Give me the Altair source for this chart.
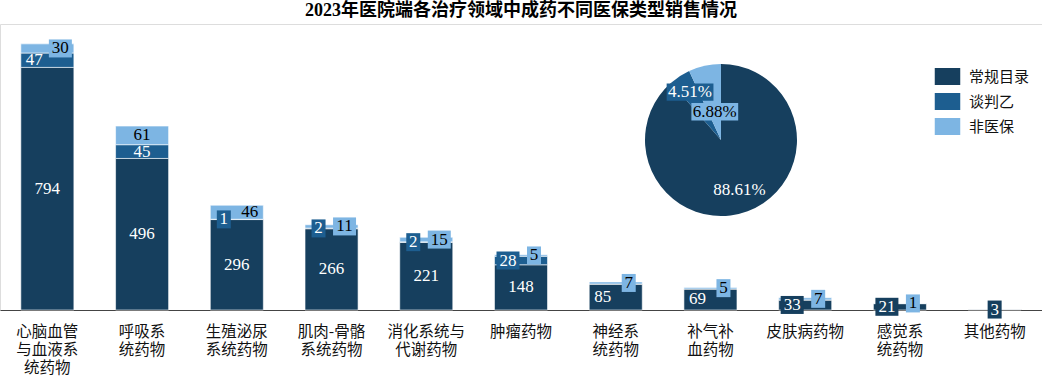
import altair as alt
import pandas as pd

# ---------------- data ----------------
categories = ["心脑血管与血液系统药物", "呼吸系统药物", "生殖泌尿系统药物", "肌肉-骨骼系统药物",
              "消化系统与代谢药物", "肿瘤药物", "神经系统药物", "补气补血药物",
              "皮肤病药物", "感觉系统药物", "其他药物"]
axis_labels = ["心脑血管|与血液系|统药物", "呼吸系|统药物", "生殖泌尿|系统药物", "肌肉-骨骼|系统药物",
               "消化系统与|代谢药物", "肿瘤药物", "神经系|统药物", "补气补|血药物",
               "皮肤病药物", "感觉系|统药物", "其他药物"]
series = ["常规目录", "谈判乙", "非医保"]
regular = [794, 496, 296, 266, 221, 148, 85, 69, 33, 21, 3]
negotiated = [47, 45, 1, 2, 2, 28, 0, 0, 0, 0, 0]
non_insured = [30, 61, 46, 11, 15, 5, 7, 5, 7, 1, 0]
pie_share = [88.61, 4.51, 6.88]
colors = ["#163f5e", "#1d5e90", "#7db5e3"]
title_text = "2023年医院端各治疗领域中成药不同医保类型销售情况"

# ---------------- layout constants ----------------
TOP = 24
W = 1042
H = 310 - TOP
YMAX = 936
CX, CY, R = 721, 140 - TOP, 76
NUM_FONT = "Liberation Serif"
CJK_FONT = "Noto Sans CJK SC"

# ---------------- tables ----------------
rows = []
for i, lab in enumerate(axis_labels):
    r, n, u = regular[i], negotiated[i], non_insured[i]
    both_big = n >= 40 and u >= 40
    for k, (s, v) in enumerate(zip(series, (r, n, u))):
        if k == 0:
            pos = "L" if (r < 100 and u > 0) else "C"
        elif k == 1:
            pos = "C" if both_big else "L"
        else:
            pos = "C" if both_big else "R"
        rows.append({"category": categories[i], "label": lab, "series": s, "value": v,
                     "order": k, "pos": pos, "boxed": v < 40,
                     "boxkey": pos + ("1" if v < 10 else "2")})
df = pd.DataFrame(rows)
pie_df = pd.DataFrame({"series": series, "pct": pie_share, "order": [0, 1, 2]})

def rect_path(off, hw, hh=1.0):
    return f"M{off-hw},{-hh}L{off+hw},{-hh}L{off+hw},{hh}L{off-hw},{hh}Z"

UNIT = 9  # sqrt(324)/2
box_keys = ["L1", "L2", "C1", "C2", "R1", "R2"]
offs = {"L": -13 / UNIT, "C": 0, "R": 13 / UNIT}
halfw = {"1": 7 / UNIT, "2": 11.5 / UNIT}
box_paths = [rect_path(offs[k[0]], halfw[k[1]]) for k in box_keys]

color_scale = alt.Scale(domain=series, range=colors)
x_enc = alt.X("label:N", sort=axis_labels,
              scale=alt.Scale(domain=axis_labels, paddingInner=0.44, paddingOuter=0.22),
              axis=alt.Axis(title=None, labelExpr="split(datum.label, '|')", labelAngle=0,
                            labelFont=CJK_FONT, labelFontSize=15.5, labelLineHeight=18,
                            labelColor="#111", labelPadding=14, ticks=False, tickSize=0,
                            domainColor="#444", domainWidth=1, grid=False, labelBaseline="top"))
y_scale = alt.Scale(domain=[0, YMAX])

def series_color(c_regular, c_neg, c_non):
    return (alt.when(alt.datum.series == "常规目录").then(alt.value(c_regular))
            .when(alt.datum.series == "谈判乙").then(alt.value(c_neg))
            .otherwise(alt.value(c_non)))

base = (alt.Chart(df)
        .transform_stack(stack="value", groupby=["label"], sort=[alt.SortField("order", "ascending")],
                         as_=["start", "end"])
        .transform_calculate(mid="(datum.start + datum.end) / 2"))

bars = base.mark_bar(stroke="white", strokeWidth=0.6).encode(
    x=x_enc,
    y=alt.Y("start:Q", scale=y_scale, axis=None),
    y2="end:Q",
    color=alt.Color("series:N", scale=color_scale, sort=series,
                    legend=alt.Legend(title=None, orient="none", legendX=939, legendY=44,
                                      symbolType=rect_path(0, 1.5), symbolSize=289,
                                      symbolStrokeWidth=0, symbolOpacity=1,
                                      labelFont=CJK_FONT, labelFontSize=15, labelColor="#111",
                                      labelOffset=13, rowPadding=8)),
)

boxes = base.transform_filter("datum.value > 0 && datum.boxed").mark_point(
    filled=True, size=324, opacity=1, strokeWidth=0).encode(
    x=x_enc,
    y=alt.Y("mid:Q", scale=y_scale, axis=None),
    shape=alt.Shape("boxkey:N", scale=alt.Scale(domain=box_keys, range=box_paths), legend=None),
    fill=series_color(*colors),
)

texts = []
for p, dx in (("L", -13), ("C", 0), ("R", 13)):
    texts.append(base.transform_filter(f"datum.value > 0 && datum.pos == '{p}'").mark_text(
        dx=dx, font=NUM_FONT, fontSize=17, baseline="middle").encode(
        x=x_enc,
        y=alt.Y("mid:Q", scale=y_scale, axis=None),
        text=alt.Text("value:Q"),
        color=series_color("white", "white", "black"),
    ))

pie = alt.Chart(pie_df).mark_arc(outerRadius=R).encode(
    theta=alt.Theta("pct:Q", stack=True),
    color=alt.Color("series:N", scale=color_scale, sort=series),
    order=alt.Order("order:Q"),
    x=alt.value(CX), y=alt.value(CY),
)

pie_pos = (alt.Chart(pie_df)
           .transform_window(cum="sum(pct)", sort=[alt.SortField("order")], frame=[None, 0])
           .transform_calculate(
               ang="(datum.cum - datum.pct / 2) / 100 * 2 * PI",
               rad="datum.series == '常规目录' ? 53 : (datum.series == '谈判乙' ? 57 : 29)")
           .transform_calculate(
               px=f"{CX} + datum.rad * sin(datum.ang)",
               py=f"{CY} - datum.rad * cos(datum.ang)"))

pie_boxes = pie_pos.transform_filter("datum.series != '常规目录'").mark_point(
    filled=True, size=324, opacity=1, strokeWidth=0, shape=rect_path(0, 2.6, 0.97)).encode(
    x=alt.X("px:Q", scale=None, axis=None),
    y=alt.Y("py:Q", scale=None, axis=None),
    fill=series_color(*colors),
)

pie_text = pie_pos.transform_calculate(lbl="format(datum.pct, '.2f') + '%'").mark_text(
    font=NUM_FONT, fontSize=17, baseline="middle").encode(
    x=alt.X("px:Q", scale=None, axis=None),
    y=alt.Y("py:Q", scale=None, axis=None),
    text="lbl:N",
    color=series_color("white", "white", "black"),
)

chart = alt.layer(bars, boxes, *texts, pie, pie_boxes, pie_text).properties(
    width=W, height=H,
    title=alt.Title(title_text, font="Liberation Serif, Noto Sans CJK SC", fontSize=18,
                    fontWeight="bold", color="#000", anchor="middle", offset=4),
    autosize=alt.AutoSizeParams(type="none"),
    padding={"left": 0, "right": 0, "top": TOP, "bottom": 376 - 310},
).configure_view(stroke=None).configure(background="white")

chart.save("out.html", embed_options={"renderer": "svg", "actions": False})
